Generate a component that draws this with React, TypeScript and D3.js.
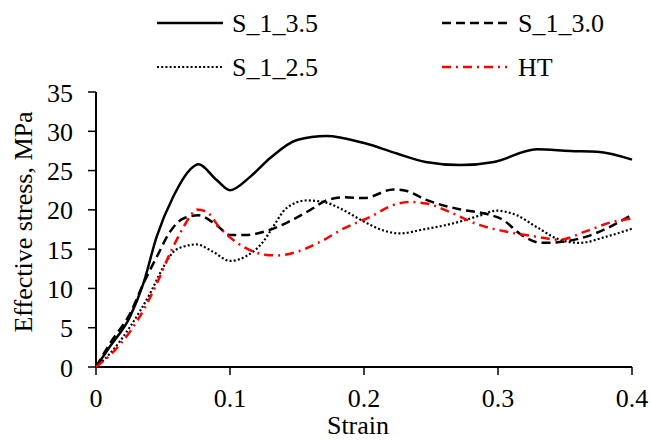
import React from "react";
import * as d3 from "d3";

const xTicks = [0, 0.1, 0.2, 0.3, 0.4];
const xTickLabels = ["0", "0.1", "0.2", "0.3", "0.4"];
const yTicks = [0, 5, 10, 15, 20, 25, 30, 35];

const s35: [number, number][] = [
  [0, 0], [0.0104, 2.6], [0.0254, 6.4], [0.0353, 10.6], [0.0453, 16.6], [0.0577, 21.7],
  [0.0701, 25.1], [0.0764, 25.8], [0.09, 23.8], [0.1, 22.5], [0.115, 24.2], [0.13, 26.6],
  [0.15, 28.9], [0.172, 29.4], [0.2, 28.5], [0.224, 27.2], [0.246, 26.1], [0.272, 25.7],
  [0.297, 26.1], [0.329, 27.7], [0.354, 27.5], [0.374, 27.4], [0.4, 26.4],
];
const s30: [number, number][] = [
  [0, 0], [0.0104, 3.0], [0.0254, 6.8], [0.0353, 10.6], [0.0453, 14.0], [0.0552, 17.2],
  [0.0652, 18.9], [0.0764, 19.3], [0.09, 18.05], [0.1, 16.8], [0.112, 16.8], [0.127, 17.3],
  [0.144, 18.5], [0.16, 20.0], [0.172, 21.2], [0.1845, 21.6], [0.2, 21.5], [0.222, 22.6],
  [0.232, 22.4], [0.246, 21.3], [0.272, 20.05], [0.291, 19.5], [0.304, 18.7], [0.316, 17.0],
  [0.3326, 15.8], [0.346, 15.9], [0.366, 16.6], [0.386, 18.05], [0.4, 19.4],
];
const s25: [number, number][] = [
  [0, 0], [0.0104, 1.7], [0.0254, 5.1], [0.0403, 9.35], [0.0502, 12.7], [0.0577, 14.65],
  [0.065, 15.3], [0.075, 15.6], [0.0875, 14.65], [0.1, 13.5], [0.112, 14.1], [0.125, 16.0],
  [0.132, 17.8], [0.142, 20.2], [0.157, 21.2], [0.17, 21.0], [0.182, 20.2], [0.2, 18.5],
  [0.214, 17.4], [0.2266, 17.0], [0.244, 17.5], [0.267, 18.3], [0.287, 19.3], [0.299, 19.9],
  [0.314, 19.3], [0.329, 17.8], [0.346, 16.2], [0.361, 15.8], [0.381, 16.6], [0.4, 17.6],
];
const sHT: [number, number][] = [
  [0, 0], [0.0104, 1.5], [0.0254, 4.5], [0.0353, 7.2], [0.0453, 10.6], [0.0552, 14.45],
  [0.0627, 17.0], [0.07, 19.1], [0.075, 20.05], [0.0826, 19.75], [0.092, 17.8], [0.1, 16.5],
  [0.11, 15.3], [0.126, 14.3], [0.135, 14.2], [0.15, 14.65], [0.167, 15.9], [0.1846, 17.6],
  [0.2045, 19.1], [0.2216, 20.6], [0.234, 21.0], [0.2466, 20.8], [0.267, 19.5], [0.284, 18.2],
  [0.304, 17.3], [0.326, 16.65], [0.346, 16.2], [0.366, 17.3], [0.386, 18.5], [0.4, 18.9],
];

const seriesNames = ["S_1_3.5", "S_1_3.0", "S_1_2.5", "HT"];

export default function App() {
  const W = 651, H = 441;
  const x = d3.scaleLinear().domain([0, 0.4]).range([96, 632]);
  const y = d3.scaleLinear().domain([0, 35]).range([367, 92]);
  const line = d3.line<[number, number]>().x(d => x(d[0])).y(d => y(d[1])).curve(d3.curveMonotoneX);
  const tStyle: React.CSSProperties = { fontFamily: "Liberation Serif", fontSize: "26px" };

  const styles = [
    { data: s35, stroke: "#000", width: 2.5, dash: undefined as string | undefined },
    { data: s30, stroke: "#000", width: 2.5, dash: "9,5" },
    { data: s25, stroke: "#000", width: 2.2, dash: "2,2.2" },
    { data: sHT, stroke: "#ff0000", width: 2.5, dash: "9,5,2,5" },
  ];
  const legendPos = [
    { x1: 157, x2: 223, y: 23, tx: 232 },
    { x1: 442, x2: 507, y: 23, tx: 518 },
    { x1: 157, x2: 223, y: 67, tx: 232 },
    { x1: 442, x2: 507, y: 67, tx: 518 },
  ];

  return (
    <svg width={W} height={H} style={{ position: "absolute", left: 0, top: 0, background: "#fff" }}>
      <rect width={W} height={H} fill="#fff" />
      {seriesNames.map((n, i) => (
        <g key={n}>
          <line x1={legendPos[i].x1} x2={legendPos[i].x2} y1={legendPos[i].y} y2={legendPos[i].y}
            stroke={styles[i].stroke} strokeWidth={styles[i].width} strokeDasharray={styles[i].dash} />
          <text x={legendPos[i].tx} y={legendPos[i].y + 9} style={tStyle} fill="#000">{n}</text>
        </g>
      ))}
      <line x1={x(0)} x2={x(0)} y1={y(35)} y2={y(0)} stroke="#000" strokeWidth={2} />
      <line x1={x(0)} x2={x(0.4)} y1={y(0)} y2={y(0)} stroke="#000" strokeWidth={2} />
      {yTicks.map(t => (
        <g key={t}>
          <line x1={x(0) - 8} x2={x(0)} y1={y(t)} y2={y(t)} stroke="#000" strokeWidth={1.5} />
          <text x={73} y={y(t) + 9.5} style={tStyle} textAnchor="end" fill="#000">{t}</text>
        </g>
      ))}
      {xTicks.map((t, i) => (
        <g key={t}>
          <line x1={x(t)} x2={x(t)} y1={y(0)} y2={y(0) + 8} stroke="#000" strokeWidth={1.5} />
          <text x={x(t)} y={407} style={tStyle} textAnchor="middle" fill="#000">{xTickLabels[i]}</text>
        </g>
      ))}
      <text x={358} y={434} style={tStyle} textAnchor="middle" fill="#000">Strain</text>
      <text transform="translate(32,222) rotate(-90)" style={tStyle} textAnchor="middle" fill="#000">
        Effective stress, MPa
      </text>
      {styles.map((s, i) => (
        <path key={i} d={line(s.data) || ""} fill="none" stroke={s.stroke} strokeWidth={s.width}
          strokeDasharray={s.dash} />
      ))}
    </svg>
  );
}
